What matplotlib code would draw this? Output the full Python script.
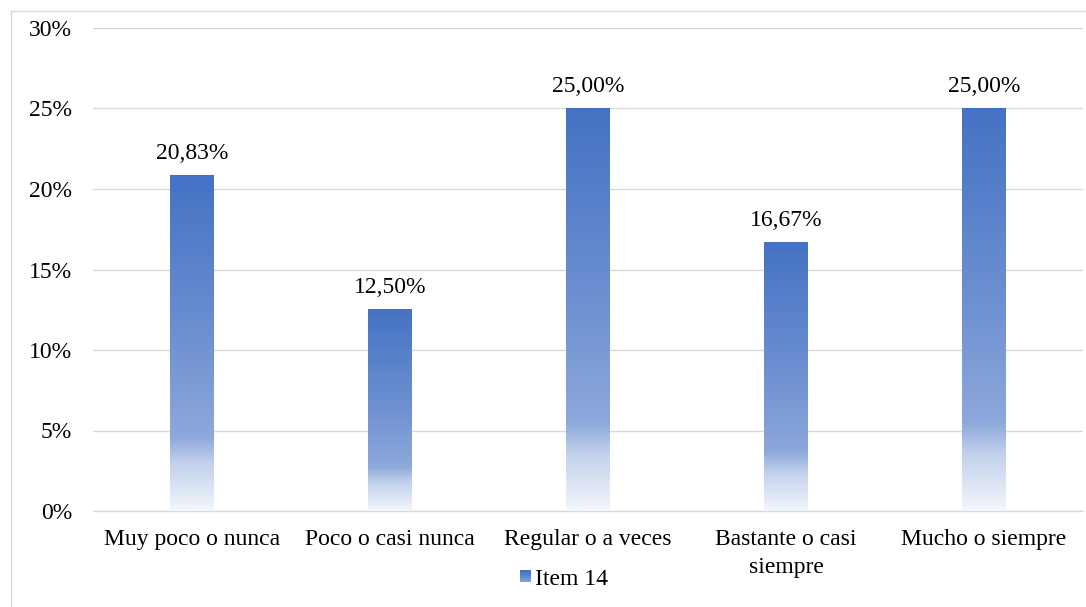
import numpy as np
import matplotlib
matplotlib.use("Agg")
import matplotlib.pyplot as plt
from matplotlib.colors import LinearSegmentedColormap
from matplotlib.legend_handler import HandlerBase
from matplotlib.patches import Rectangle
from matplotlib.lines import Line2D

categories = ["Muy poco o nunca", "Poco o casi nunca", "Regular o a veces",
              "Bastante o casi\nsiempre", "Mucho o siempre"]
values = [20.83, 12.50, 25.00, 16.67, 25.00]
labels = ["20,83%", "12,50%", "25,00%", "16,67%", "25,00%"]
series_name = "Item 14"
yticks = [0, 5, 10, 15, 20, 25, 30]

plt.rcParams['font.family'] = ['Liberation Serif', 'DejaVu Serif']
FS = 17

W, H = 1086, 607
fig = plt.figure(figsize=(W / 100, H / 100), dpi=100)
ax = fig.add_axes([93 / W, 1 - 511 / H, (1083 - 93) / W, (511 - 28) / H])

# gradient: top dark blue -> lighter -> near white at bottom
cmap = LinearSegmentedColormap.from_list(
    "grad", [(0.0, "#F3F6FC"), (0.14, "#C3D1EC"), (0.22, "#8DA8DA"),
             (0.55, "#6B8ED0"), (1.0, "#4472C4")])
grad = np.linspace(0, 1, 256).reshape(-1, 1)

x = np.arange(len(categories))
bw = 0.22
bars = ax.bar(x, values, width=bw, color="none", edgecolor="none", zorder=3)
for b in bars:
    x0, y0, w, h = b.get_x(), b.get_y(), b.get_width(), b.get_height()
    ax.imshow(grad, cmap=cmap, origin="lower", aspect="auto",
              extent=[x0, x0 + w, y0, y0 + h], zorder=3, interpolation="bilinear")
for xi, v, lab in zip(x, values, labels):
    ax.text(xi, v + 0.7, lab, ha="center", va="bottom", fontsize=FS, color="#000000")

ax.set_xlim(-0.5, len(categories) - 0.5)
ax.set_ylim(0, 30)
ax.set_yticks(yticks)
ax.set_yticklabels([f"{t}%" for t in yticks], fontsize=FS)
ax.set_xticks(x)
ax.set_xticklabels(categories, fontsize=FS, linespacing=1.45)
ax.tick_params(axis="both", length=0)
ax.tick_params(axis="x", pad=13)
ax.tick_params(axis="y", pad=15)
ax.grid(axis="y", color="#D9D9D9", linewidth=1.0, zorder=0)
ax.set_axisbelow(True)
for s in ["top", "right", "left"]:
    ax.spines[s].set_visible(False)
ax.spines["bottom"].set_color("#D9D9D9")
ax.spines["bottom"].set_linewidth(1.0)


class GradHandler(HandlerBase):
    def create_artists(self, legend, orig_handle, xdescent, ydescent, width,
                       height, fontsize, trans):
        arts = []
        n = 12
        side = height * 0.7
        x0 = xdescent + width - side
        y0 = -ydescent + (height - side) / 2
        for i in range(n):
            c = cmap(0.3 + 0.7 * i / (n - 1))
            r = Rectangle((x0, y0 + side * i / n), side, side / n + 0.2,
                          facecolor=c, edgecolor="none", transform=trans)
            arts.append(r)
        return arts


proxy = Line2D([], [])
fig.legend([proxy], [series_name], handler_map={Line2D: GradHandler()},
           loc="center", bbox_to_anchor=(560 / W, 1 - 579 / H), frameon=False,
           fontsize=FS, handlelength=0.8, handletextpad=0.15)

# outer border (chart area)
fig.add_artist(Line2D([11 / W, 11 / W], [0, 1 - 11 / H], transform=fig.transFigure,
                      color="#D9D9D9", linewidth=1.0))
fig.add_artist(Line2D([11 / W, 1], [1 - 11 / H, 1 - 11 / H], transform=fig.transFigure,
                      color="#D9D9D9", linewidth=1.0))

fig.savefig("out.png", dpi=100, facecolor="white")
